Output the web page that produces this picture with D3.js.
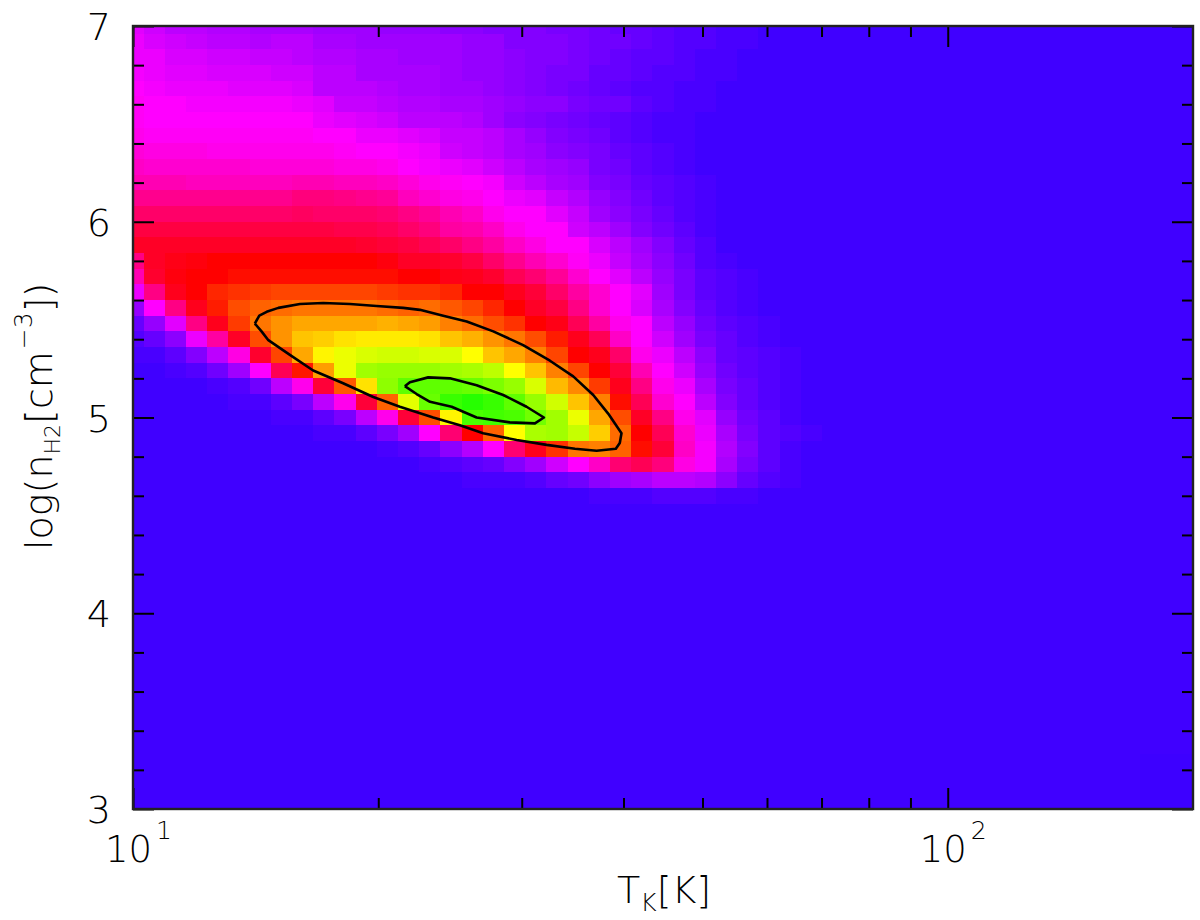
<!DOCTYPE html>
<html>
<head>
<meta charset="utf-8">
<script src="https://cdn.jsdelivr.net/npm/d3@7"></script>
<style>
  body { margin: 0; background: #fff; }
  text { font-family: "DejaVu Sans", sans-serif; font-weight: 200; fill: #000; }
</style>
</head>
<body>
<svg id="chart" width="1200" height="920">
  <filter id="soft" x="0" y="0" width="100%" height="100%"><feGaussianBlur stdDeviation="0.6"></feGaussianBlur></filter>
</svg>
<script>
// grid values, top row is log n = 7, one row per 0.08 dex, rows not listed are background
// columns are log spaced from T = 10 to T = 200
var cellValues = [
  [17,15,13,13,12,12,11,11,11,10,10,10,9,9,9,8,8,7,7,7,6,6,5,4,4,3,2,2,1,1],
  [18,16,15,14,13,13,12,13,13,11,11,10,10,10,10,10,9,9,7,7,7,6,5,5,4,3,2,2,1,1],
  [18,18,16,16,15,15,14,14,13,12,12,11,11,10,10,10,9,9,8,7,7,6,5,4,3,3,2,1,1],
  [19,18,17,17,16,16,16,15,15,13,13,11,11,11,11,10,9,9,8,7,6,6,4,4,3,2,2,1,1],
  [20,19,18,18,18,17,17,17,16,13,13,13,12,11,11,10,10,9,8,7,6,5,4,3,2,2,1,1],
  [21,20,20,19,19,19,19,19,18,17,14,14,13,12,12,11,11,10,9,8,8,6,5,5,3,2,1,1],
  [21,20,20,20,20,20,20,20,20,18,17,16,15,13,13,13,12,10,8,7,6,5,4,3,2,1,1],
  [22,21,21,21,21,21,21,21,21,20,20,18,18,17,16,14,14,13,11,9,7,6,5,3,2,1,1],
  [24,23,23,23,22,22,22,22,22,22,21,20,20,19,18,15,14,13,11,10,8,7,6,4,3,2,1],
  [26,25,25,25,25,25,24,24,24,24,23,23,22,20,19,18,17,15,13,11,10,9,6,5,3,2,1],
  [28,28,28,27,27,27,27,27,28,28,27,27,26,24,22,21,20,19,15,13,11,10,7,6,4,3,2,1],
  [32,32,32,32,32,32,32,32,34,34,33,32,31,27,25,23,22,20,18,17,14,12,9,7,5,3,2,1],
  [36,36,36,36,36,36,36,36,37,36,36,36,35,33,31,28,26,22,20,20,17,14,10,8,6,4,2,1],
  [40,40,40,40,40,40,40,40,40,40,39,39,38,36,34,30,29,26,22,20,20,15,13,10,7,5,3,1],
  [43,43,43,43,43,43,43,43,43,43,43,42,41,40,38,36,33,30,26,23,20,20,16,13,10,7,4,2],
  [33,43,45,46,47,47,47,47,47,47,47,47,46,43,43,42,40,36,32,28,25,21,18,14,11,8,5,2,1],
  [28,42,46,47,47,48,48,48,48,48,48,48,48,47,47,45,44,42,38,35,31,25,20,17,13,9,6,3,2,1],
  [18,33,44,47,51,52,53,54,54,54,54,54,53,52,52,51,47,47,44,41,36,30,25,20,17,10,6,3,2,1],
  [9,20,33,44,50,55,57,58,59,59,59,59,58,57,58,56,54,51,47,43,40,33,25,20,16,11,7,4,2,1],
  [4,9,17,33,44,53,59,62,64,64,64,64,65,64,63,60,58,55,52,47,45,38,30,22,20,13,9,5,3,2,1],
  [2,4,8,18,30,43,55,62,67,68,70,71,71,71,70,67,65,62,59,55,50,44,38,26,20,15,10,6,4,2,1],
  [1,1,3,7,13,23,42,54,64,72,75,77,78,78,77,77,73,67,64,60,54,47,44,36,22,18,13,8,4,3,2,1],
  [0,0,1,2,5,10,20,38,49,63,75,83,84,84,84,83,82,80,73,67,60,54,47,41,28,20,15,9,5,3,2,1],
  [0,0,0,0,1,2,5,13,22,41,56,70,85,90,90,90,89,87,84,77,66,61,53,44,33,22,18,11,6,4,2,1],
  [0,0,0,0,0,1,1,3,6,13,22,41,57,76,89,94,96,94,90,84,78,67,60,48,38,25,20,13,7,4,2,1],
  [0,0,0,0,0,0,0,1,1,3,6,13,22,41,55,72,92,93,92,88,83,75,64,55,43,33,22,17,9,5,3,1],
  [0,0,0,0,0,0,0,0,0,1,1,3,6,10,20,35,47,57,73,82,83,79,68,58,47,38,25,18,11,6,3,2,1],
  [0,0,0,0,0,0,0,0,0,0,0,0,1,2,4,8,12,20,35,44,52,59,60,57,48,41,26,19,12,7,3,1],
  [0,0,0,0,0,0,0,0,0,0,0,0,0,0,1,2,3,4,7,10,15,20,26,35,38,34,23,19,11,6,3,1],
  [0,0,0,0,0,0,0,0,0,0,0,0,0,0,0,0,1,1,1,2,4,5,8,10,11,13,13,12,8,4,2,1],
  [0,0,0,0,0,0,0,0,0,0,0,0,0,0,0,0,0,0,0,0,0,0,1,1,1,2,2,2,1,1]
];

// the slightly darker patch in the bottom right corner
var cornerRows = [47,48,49,50];
var cornerCols = [48,49,50];
var cornerValue = -0.4;

// contours, T in K and log n
var outerT = [14.11,14.29,14.59,15.08,16.03,17.12,18.46,19.91,21.46,22.5,24.03,25.68,27.68,30.12,32.49,34.7,36.72,38.3,39.77,39.58,39.14,37.07,34.87,32.19,29.57,26.9,25.19,23.36,21.26,19.72,18.11,16.64,15.58,14.66,14.38,14.11];
var outerN = [5.48,5.52,5.54,5.56,5.58,5.585,5.58,5.57,5.56,5.55,5.52,5.49,5.44,5.37,5.29,5.21,5.115,5.02,4.92,4.87,4.84,4.83,4.84,4.86,4.885,4.92,4.96,5,5.055,5.105,5.175,5.24,5.32,5.395,5.44,5.48];
var innerT = [21.56,21.87,23.03,24.49,26.41,28.47,30.41,31.94,31.14,29.01,26.41,24.61,23.15,22.29,21.56];
var innerN = [5.16,5.18,5.205,5.2,5.165,5.115,5.055,5,4.97,4.975,5,5.055,5.08,5.12,5.16];

var xMinor = [20,30,40,50,60,70,80,90];
var xMajor = [10,100];
var yMinor = [3.2,3.4,3.6,3.8,4.2,4.4,4.6,4.8,5.2,5.4,5.6,5.8,6.2,6.4,6.6,6.8];
var yMajor = [3,4,5,6,7];

var left = 133, right = 1193, top_ = 26, bottom = 809;
var nCells = 51;

var x = d3.scaleLog().domain([10, 200]).range([left, right]);
var y = d3.scaleLinear().domain([3, 7]).range([bottom, top_]);

var color = d3.scaleLinear()
    .domain([0, 20, 47, 73, 100])
    .range(["#4000ff", "#ff00ff", "#ff0000", "#ffff00", "#00ff00"]);

var svg = d3.select("#chart");

svg.append("clipPath").attr("id", "plot")
  .append("rect")
    .attr("x", left).attr("y", top_)
    .attr("width", right - left).attr("height", bottom - top_);

// cell edges in data units, half a step either side of the grid point
var logStep = Math.log10(20) / (nCells - 1);
var nStep = 4 / (nCells - 1);
function cellT(c) { return Math.pow(10, 1 + c * logStep); }
function cellN(r) { return 7 - r * nStep; }

var cells = [];
d3.range(nCells).forEach(function(r) {
  d3.range(nCells).forEach(function(c) {
    var row = cellValues[r] || [];
    var v = row[c] || 0;
    if (cornerRows.indexOf(r) >= 0 && cornerCols.indexOf(c) >= 0) v = cornerValue;
    cells.push({ r: r, c: c, v: v });
  });
});

svg.append("g").attr("clip-path", "url(#plot)")
  .append("g").attr("filter", "url(#soft)")
  .selectAll("rect")
    .data(cells)
  .enter().append("rect")
    .attr("x", function(d) { return x(cellT(d.c - 0.5)); })
    .attr("y", function(d) { return y(cellN(d.r - 0.5)); })
    .attr("width", function(d) { return x(cellT(d.c + 0.5)) - x(cellT(d.c - 0.5)); })
    .attr("height", function(d) { return y(cellN(d.r + 0.5)) - y(cellN(d.r - 0.5)); })
    .attr("shape-rendering", "crispEdges")
    .attr("fill", function(d) { return color(d.v); });

var line = d3.line()
    .x(function(d) { return x(d[0]); })
    .y(function(d) { return y(d[1]); });

[[outerT, outerN], [innerT, innerN]].forEach(function(pair) {
  svg.append("path")
      .datum(d3.zip(pair[0], pair[1]))
      .attr("d", line)
      .attr("fill", "none")
      .attr("stroke", "#000")
      .attr("stroke-width", 2.6)
      .attr("stroke-linejoin", "round");
});

// ticks point inwards on all four sides, labels are added by hand below
function ticks(axis, scale, values, size, tx, ty) {
  var g = svg.append("g")
      .attr("transform", "translate(" + tx + "," + ty + ")")
      .call(axis(scale).tickValues(values).tickSize(size).tickFormat(""));
  g.select(".domain").remove();
  g.selectAll("line").attr("stroke", "#000").attr("stroke-width", 2);
}
ticks(d3.axisBottom, x, xMinor, -11, 0, bottom);
ticks(d3.axisBottom, x, xMajor, -21, 0, bottom);
ticks(d3.axisTop, x, xMinor, -11, 0, top_);
ticks(d3.axisTop, x, xMajor, -21, 0, top_);
ticks(d3.axisLeft, y, yMinor, -11, left, 0);
ticks(d3.axisLeft, y, yMajor, -21, left, 0);
ticks(d3.axisRight, y, yMinor, -11, right, 0);
ticks(d3.axisRight, y, yMajor, -21, right, 0);

svg.append("rect")
    .attr("x", left).attr("y", top_)
    .attr("width", right - left).attr("height", bottom - top_)
    .attr("fill", "none")
    .attr("stroke", "#222")
    .attr("stroke-width", 2.4);

// y tick labels
svg.selectAll(".ylab")
    .data(yMajor)
  .enter().append("text")
    .attr("class", "ylab")
    .attr("x", 111)
    .attr("y", function(d) { return y(d) + 14; })
    .attr("text-anchor", "end")
    .style("font-size", "38px")
    .text(function(d) { return d; });

// x tick labels, 10 with the power raised
var xlab = svg.selectAll(".xlab")
    .data(xMajor)
  .enter().append("text")
    .attr("class", "xlab")
    .attr("x", function(d) { return x(d) - 28; })
    .attr("y", 862)
    .style("font-size", "37px");
xlab.append("tspan").text("10");
xlab.append("tspan")
    .attr("dx", 4).attr("dy", -23)
    .style("font-size", "25px")
    .text(function(d) { return Math.log10(d); });

// axis titles
var xTitle = svg.append("text")
    .attr("x", 617).attr("y", 903)
    .style("font-size", "38px");
xTitle.append("tspan").text("T");
xTitle.append("tspan").attr("dy", 8).style("font-size", "25px").text("K");
xTitle.append("tspan").attr("dy", -8).text("[K]");

var yTitle = svg.append("text")
    .attr("transform", "translate(52,550) rotate(-90)")
    .style("font-size", "38px");
yTitle.append("tspan").text("log(n");
yTitle.append("tspan").attr("dy", 8).style("font-size", "22px").text("H2");
yTitle.append("tspan").attr("dy", -8).text("[cm");
yTitle.append("tspan").attr("dx", 2).attr("dy", -20).style("font-size", "25px").text("−3");
yTitle.append("tspan").attr("dy", 20).text("])");
</script>
</body>
</html>
